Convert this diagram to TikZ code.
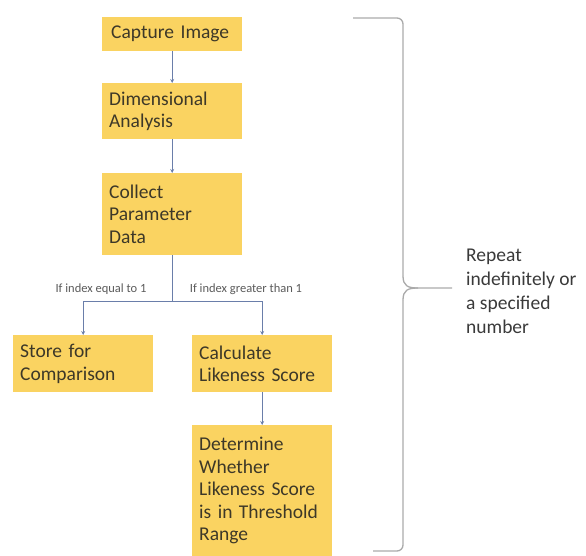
\documentclass[tikz,border=0pt]{standalone}
\usepackage{fontspec}
\setmainfont{Carlito}
\usetikzlibrary{arrows.meta,calc}
\definecolor{boxyellow}{HTML}{FAD361}
\definecolor{txt}{HTML}{3D3828}
\definecolor{reptxt}{HTML}{3A3A3A}
\definecolor{arrcol}{HTML}{6A7EAA}
\definecolor{bracecol}{HTML}{AAAAAA}
\definecolor{lbltxt}{HTML}{5A5A5A}
\tikzset{
  box/.style={fill=boxyellow, text=txt, font=\fontsize{19.5}{22.5}\selectfont, align=left,
    inner xsep=7pt, inner ysep=0pt, anchor=north west, text width=126pt},
  conn/.style={draw=arrcol, line width=0.8pt},
  arr/.style={conn, -{Stealth[length=4pt,width=4pt]}},
  lbl/.style={font=\fontsize{12.5}{14}\selectfont, text=lbltxt, inner sep=0pt, anchor=base},
  bracestyle/.style={draw=bracecol, line width=1.3pt, rounded corners=6pt},
  reptext/.style={font=\fontsize{19.5}{24}\selectfont, text=reptxt, align=left, inner sep=0pt, anchor=west}
}
\begin{document}
\begin{tikzpicture}[x=1pt,y=-1pt]
\useasboundingbox (0,0) rectangle (586,555);
\node[box, minimum height=34pt, inner xsep=9pt, text width=122pt] (cap) at (102,17) {Capture Image};
\node[box, minimum height=56pt] (dim) at (102,83) {Dimensional\\Analysis};
\node[box, minimum height=82pt] (col) at (102,173) {Collect\\Parameter\\Data};
\node[box, minimum height=57pt] (store) at (13,335) {Store for\\Comparison};
\node[box, minimum height=57pt] (calc) at (192,335) {Calculate\\Likeness Score};
\node[box, minimum height=131pt] (det) at (192,425) {Determine\\Whether\\Likeness Score\\is in Threshold\\Range};

\coordinate (j) at (171,301);
\draw[arr] (cap.south) -- (dim.north);
\draw[arr] (dim.south) -- (col.north);
\draw[conn] (col.south) -- (col.south |- j);
\draw[arr] (col.south |- j) -| (store.north);
\draw[arr] (col.south |- j) -| (calc.north);
\draw[arr] (calc.south) -- (det.north);

\node[lbl] (l1) at (101,292) {If index equal to 1};
\node[lbl] (l2) at (246,292) {If index greater than 1};

\draw[bracestyle] (353,18) -- (403,18) -- (403,276);
\draw[draw=bracecol, line width=1.3pt] (403,276) .. controls (403,286) and (408,288) .. (418,288) -- (452,288);
\draw[draw=bracecol, line width=1.3pt] (418,288) .. controls (408,288) and (403,290) .. (403,300);
\draw[bracestyle] (403,300) -- (403,551) -- (373,551);

\node[reptext] (rep) at (466,291) {Repeat\\indefinitely or\\a specified\\number};
\end{tikzpicture}
\end{document}
